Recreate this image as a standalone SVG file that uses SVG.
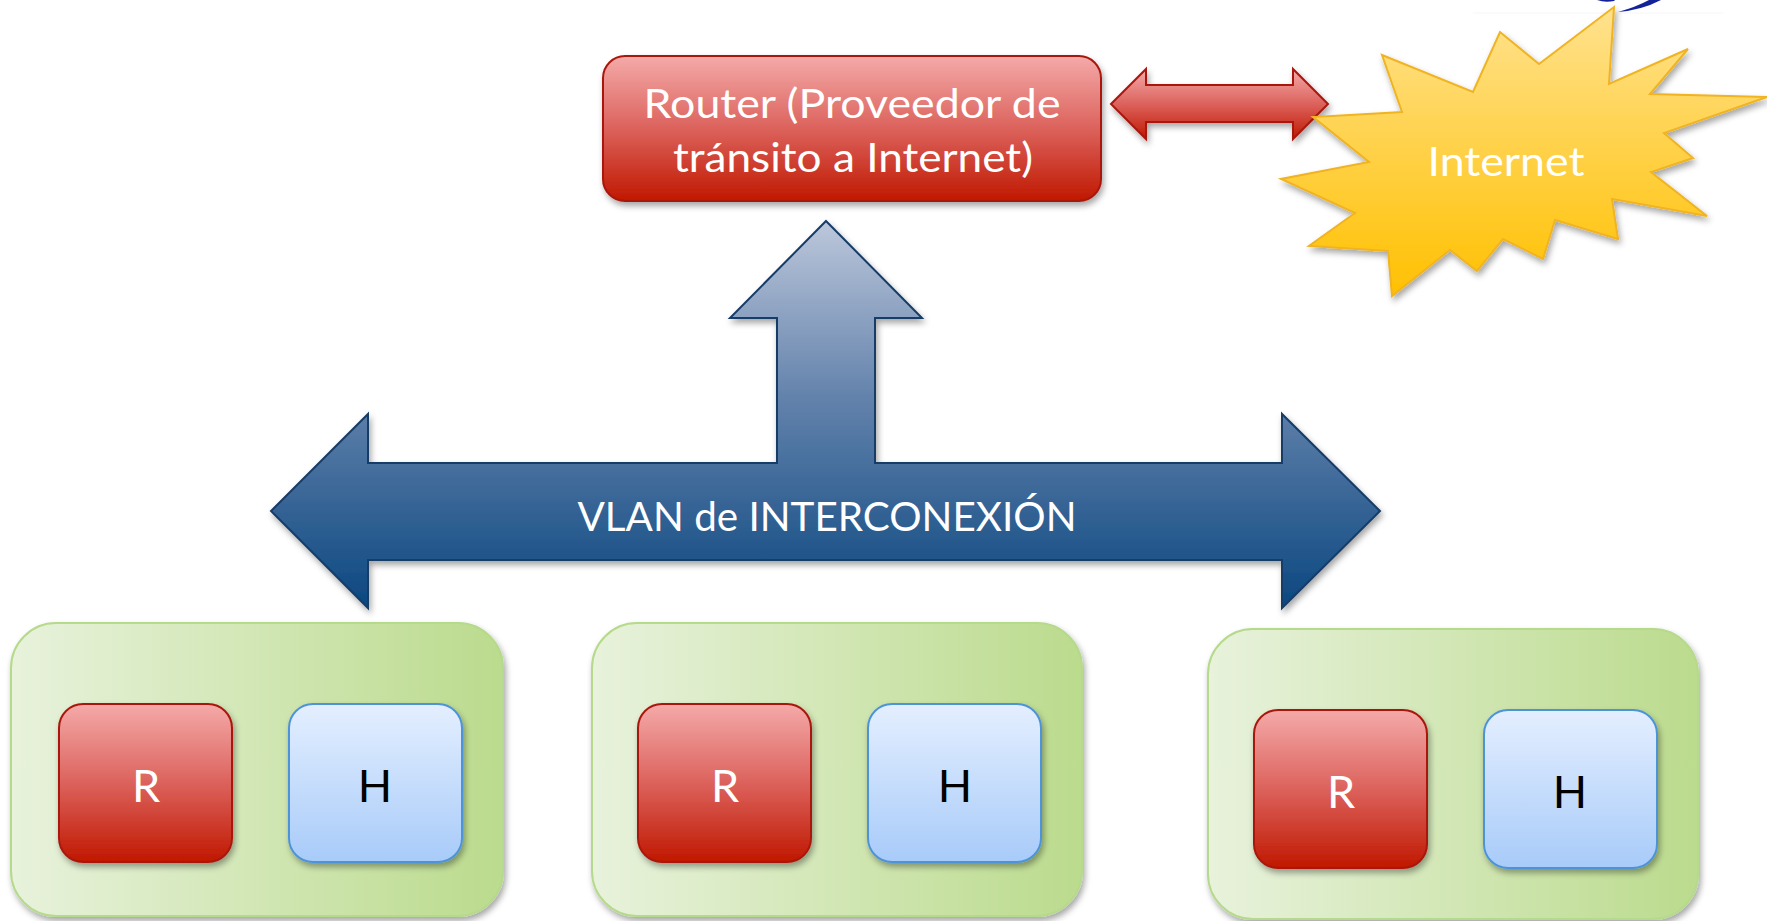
<svg xmlns="http://www.w3.org/2000/svg" width="1767" height="921" viewBox="0 0 1767 921">
  <defs>
    <linearGradient id="gRed" x1="0" y1="0" x2="0" y2="1">
      <stop offset="0" stop-color="#F4AAA9"/>
      <stop offset="0.5" stop-color="#DC625C"/>
      <stop offset="1" stop-color="#C01800"/>
    </linearGradient>
    <linearGradient id="gBlueBox" x1="0" y1="0" x2="0" y2="1">
      <stop offset="0" stop-color="#E4EFFF"/>
      <stop offset="1" stop-color="#A8CBF9"/>
    </linearGradient>
    <linearGradient id="gGreen" x1="0" y1="0" x2="1" y2="0">
      <stop offset="0" stop-color="#E8F2DC"/>
      <stop offset="1" stop-color="#BBDB8D"/>
    </linearGradient>
    <linearGradient id="gGold" x1="0" y1="0" x2="0" y2="1">
      <stop offset="0" stop-color="#FFE28F"/>
      <stop offset="1" stop-color="#FFC000"/>
    </linearGradient>
    <linearGradient id="gNavy" x1="0" y1="0" x2="0" y2="1">
      <stop offset="0" stop-color="#BCC7DB"/>
      <stop offset="0.45" stop-color="#6483AC"/>
      <stop offset="1" stop-color="#0B4780"/>
    </linearGradient>
    <filter id="shadow" x="-10%" y="-10%" width="125%" height="130%">
      <feDropShadow dx="2" dy="4" stdDeviation="3" flood-color="#000" flood-opacity="0.35"/>
    </filter>
  </defs>
  <style>
    text { font-family: Lato, "Open Sans", "Liberation Sans", sans-serif; text-anchor: middle; }
    .red { fill: url(#gRed); stroke: #A8180A; stroke-width: 2; filter: url(#shadow); }
    .host { fill: url(#gBlueBox); stroke: #4E93D8; stroke-width: 2; filter: url(#shadow); }
    .site { fill: url(#gGreen); stroke: #B6DA8C; stroke-width: 2; filter: url(#shadow); }
    .light { fill: #FFFFFF; font-size: 40px; }
    .dark { fill: #000000; font-size: 40px; }
    .letter { font-size: 45px; }
  </style>

  <rect width="1767" height="921" fill="#FFFFFF"/>

  <!-- partial swoosh and rule at the top edge -->
  <line x1="1473" y1="13" x2="1723" y2="13" stroke="#F6F6F6" stroke-width="1"/>
  <path d="M1597,0 Q1605,3 1614,1 L1615,0 Z M1618,12 Q1642,10 1661,0 L1649,0 Q1636,7 1618,12 Z" fill="#14229A"/>

  <!-- connectors -->
  <g id="connectors">
    <path id="link-router-internet" class="red" d="M1111,104 L1146,69 L1146,85 L1293,85 L1293,69 L1328,104 L1293,139 L1293,122 L1146,122 L1146,139 Z"/>
    <g id="vlan">
      <path d="M826,221 L922,318 L875,318 L875,463 L1282,463 L1282,414 L1380,511 L1282,608 L1282,560 L368,560 L368,608 L271,511 L368,414 L368,463 L777,463 L777,318 L730,318 Z" fill="url(#gNavy)" stroke="#163C68" stroke-width="2" filter="url(#shadow)"/>
      <text class="light" x="827" y="531" textLength="499" lengthAdjust="spacingAndGlyphs">VLAN de INTERCONEXIÓN</text>
    </g>
  </g>

  <!-- transit router -->
  <g id="router">
    <rect class="red" x="603" y="56" width="498" height="145" rx="22"/>
    <text class="light" x="852" y="118" textLength="417" lengthAdjust="spacingAndGlyphs">Router (Proveedor de</text>
    <text class="light" x="853" y="172" textLength="360" lengthAdjust="spacingAndGlyphs">tránsito a Internet)</text>
  </g>

  <!-- internet cloud -->
  <g id="internet">
    <polygon points="1382,55 1473,92 1500,32 1539,64 1614,7 1609,84 1688,49 1650,94 1767,97 1664,133 1693,158 1651,172 1707,216 1612,199 1618,239 1555,220 1543,259 1503,239 1477,271 1450,250 1392,296 1388,251 1309,246 1355,213 1281,179 1369,162 1313,117 1402,112" fill="url(#gGold)" stroke="#F0B323" stroke-width="2" stroke-linejoin="miter" filter="url(#shadow)"/>
    <text class="light" x="1506" y="176" textLength="157" lengthAdjust="spacingAndGlyphs">Internet</text>
  </g>

  <!-- sites: router + host -->
  <g id="site-1">
    <rect class="site" x="11" y="623" width="492" height="293" rx="45"/>
    <rect class="red" x="59" y="704" width="173" height="158" rx="24"/>
    <text class="light letter" x="146" y="802">R</text>
    <rect class="host" x="289" y="704" width="173" height="158" rx="24"/>
    <text class="dark letter" x="375" y="802">H</text>
  </g>
  <g id="site-2">
    <rect class="site" x="592" y="623" width="490" height="293" rx="45"/>
    <rect class="red" x="638" y="704" width="173" height="158" rx="24"/>
    <text class="light letter" x="725" y="802">R</text>
    <rect class="host" x="868" y="704" width="173" height="158" rx="24"/>
    <text class="dark letter" x="955" y="802">H</text>
  </g>
  <g id="site-3">
    <rect class="site" x="1208" y="629" width="490" height="290" rx="45"/>
    <rect class="red" x="1254" y="710" width="173" height="158" rx="24"/>
    <text class="light letter" x="1341" y="808">R</text>
    <rect class="host" x="1484" y="710" width="173" height="158" rx="24"/>
    <text class="dark letter" x="1570" y="808">H</text>
  </g>
</svg>
